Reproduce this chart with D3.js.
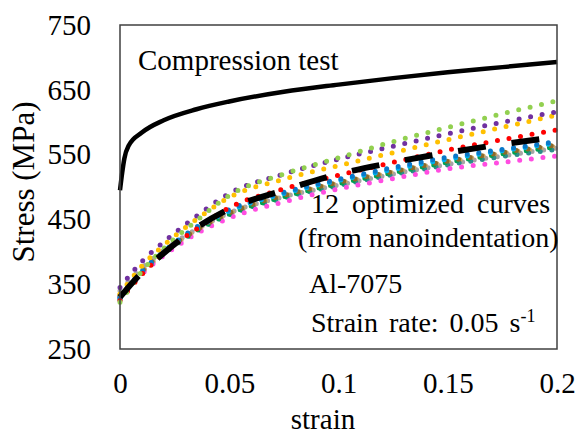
<!DOCTYPE html>
<html>
<head>
<meta charset="utf-8">
<script src="https://cdn.jsdelivr.net/npm/d3@7"></script>
<style>
  body { margin: 0; background: #fff; }
  svg { display: block; }
</style>
</head>
<body>
<div id="chart"></div>
<script>
// compression test curve
var strainC = [0, 0.001, 0.002, 0.004, 0.01, 0.02, 0.035, 0.05, 0.075, 0.1, 0.125, 0.15, 0.175, 0.2];
var stressC = [495, 522, 544, 564, 584, 603, 620, 632, 647, 658, 668, 677, 685, 693];

// optimized curves from nanoindentation, all read at the same strains
var strainN = [0, 0.01, 0.02, 0.035, 0.05, 0.075, 0.1, 0.125, 0.15, 0.175, 0.2];
var purple    = [345, 385, 415, 455, 490, 520, 543, 563, 582, 600, 616];
var green     = [322, 370, 405, 448, 487, 520, 545, 570, 592, 613, 633];
var orange    = [335, 378, 410, 450, 484, 512, 533, 553, 573, 592, 611];
var red       = [325, 365, 398, 435, 468, 497, 518, 538, 557, 573, 588];
var blue      = [330, 370, 400, 438, 465, 492, 512, 530, 546, 558, 570];
var lightblue = [328, 368, 400, 436, 463, 490, 510, 527, 543, 556, 568];
var brown     = [332, 370, 400, 434, 460, 487, 507, 524, 540, 553, 565];
var darkgreen = [326, 366, 397, 432, 458, 485, 505, 522, 538, 551, 562];
var tan       = [334, 369, 398, 433, 459, 486, 506, 523, 539, 552, 563];
var gray      = [340, 375, 402, 435, 460, 485, 503, 520, 535, 548, 560];
var teal      = [329, 367, 396, 431, 456, 483, 502, 519, 534, 547, 558];
var magenta   = [330, 366, 394, 428, 452, 477, 497, 513, 528, 538, 548];
// mean of the 12 curves (dashed)
var mean      = [330, 368, 398, 437, 466, 495, 520, 538, 553, 566, 577];

var nanoSeries = [
    { name: "gray", values: gray, color: "#a5a5a5" },
    { name: "tan", values: tan, color: "#c9a66b" },
    { name: "teal", values: teal, color: "#2e8b8b" },
    { name: "magenta", values: magenta, color: "#ff4de1" },
    { name: "darkgreen", values: darkgreen, color: "#00a050" },
    { name: "brown", values: brown, color: "#8c6a2a" },
    { name: "lightblue", values: lightblue, color: "#00b0f0" },
    { name: "blue", values: blue, color: "#0a78c8" },
    { name: "red", values: red, color: "#ff0000" },
    { name: "orange", values: orange, color: "#ffc000" },
    { name: "purple", values: purple, color: "#7030a0" },
    { name: "green", values: green, color: "#92d050" }
];

var xTicks = [0, 0.05, 0.1, 0.15, 0.2];
var yTicks = [250, 350, 450, 550, 650, 750];

var FONT = '"Liberation Serif", serif';
var w = 576, h = 437;
var margin = { top: 25, right: 19, bottom: 88, left: 120 };

var svg = d3.select("#chart").append("svg")
    .attr("width", w)
    .attr("height", h);

var x = d3.scaleLinear().domain([0, 0.2]).range([margin.left, w - margin.right]);
var y = d3.scaleLinear().domain([250, 750]).range([h - margin.bottom, margin.top]);

var line = d3.line()
    .x(d => x(d[0]))
    .y(d => y(d[1]))
    .curve(d3.curveMonotoneX);

// dotted curves
nanoSeries.forEach(function(s) {
    svg.append("path")
        .datum(strainN.map((e, i) => [e, s.values[i]]))
        .attr("d", line)
        .attr("fill", "none")
        .attr("stroke", s.color)
        .attr("stroke-width", 5)
        .attr("stroke-linecap", "round")
        .attr("stroke-dasharray", "0,11.7");
});

// dashed mean
svg.append("path")
    .datum(strainN.map((e, i) => [e, mean[i]]))
    .attr("d", line)
    .attr("fill", "none")
    .attr("stroke", "#000")
    .attr("stroke-width", 6)
    .attr("stroke-dasharray", "28,26");

// compression test
svg.append("path")
    .datum(strainC.map((e, i) => [e, stressC[i]]))
    .attr("d", line)
    .attr("fill", "none")
    .attr("stroke", "#000")
    .attr("stroke-width", 4.5);

// plot box
svg.append("rect")
    .attr("x", margin.left)
    .attr("y", margin.top)
    .attr("width", w - margin.left - margin.right)
    .attr("height", h - margin.top - margin.bottom)
    .attr("fill", "none")
    .attr("stroke", "#404040")
    .attr("stroke-width", 1.5);

// axes
var xAxis = svg.append("g")
    .attr("transform", `translate(0,${h - margin.bottom})`)
    .call(d3.axisBottom(x).tickValues(xTicks).tickSize(0).tickPadding(23).tickFormat(d => String(d)));
var yAxis = svg.append("g")
    .attr("transform", `translate(${margin.left},0)`)
    .call(d3.axisLeft(y).tickValues(yTicks).tickSize(0).tickPadding(29));
[xAxis, yAxis].forEach(function(a) {
    a.attr("font-family", null).attr("font-size", null);
    a.select(".domain").remove();
    a.selectAll("text")
        .style("font-family", FONT)
        .style("font-size", "29px")
        .attr("fill", "#000");
});

function label(xp, yp, size, str) {
    return svg.append("text")
        .attr("x", xp)
        .attr("y", yp)
        .style("font-family", FONT)
        .style("font-size", size + "px")
        .attr("fill", "#000")
        .text(str);
}

// axis titles
label(323, 429, 29, "strain").attr("text-anchor", "middle");
label(0, 0, 31, "Stress (MPa)")
    .attr("transform", "translate(34,182) rotate(-90)")
    .attr("text-anchor", "middle");

// annotations
label(138, 70, 29, "Compression test");
label(311, 213, 28, "12 optimized curves").style("word-spacing", "6px");
label(298, 247, 28, "(from nanoindentation)");
label(309, 293, 28, "Al-7075");
var sr = label(311, 332, 28, "Strain rate: 0.05 s").style("word-spacing", "4px");
sr.append("tspan").attr("dy", -10).style("font-size", "18px").text("-1");
</script>
</body>
</html>
